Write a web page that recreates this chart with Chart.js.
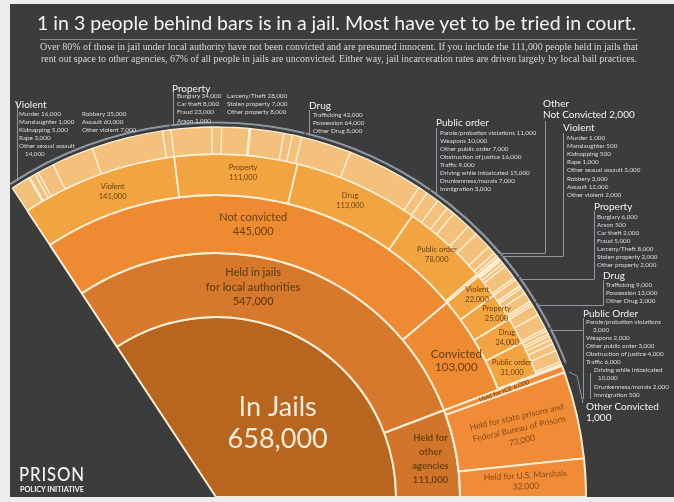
<!DOCTYPE html>
<html><head><meta charset="utf-8">
<script src="https://cdn.jsdelivr.net/npm/chart.js@4.4.1/dist/chart.umd.min.js"></script>
<style>
html,body{margin:0;padding:0;width:674px;height:502px;overflow:hidden;background:#ececec;}
#panel{position:absolute;left:10px;top:4px;width:664px;height:493px;background:#3c3c3c;overflow:hidden;}
.layer{position:absolute;left:-10px;top:-4px;width:674px;height:502px;}
canvas{position:absolute;left:0;top:0;}
.t{position:absolute;white-space:nowrap;line-height:1.2;font-family:Lato,"Open Sans",sans-serif;}
.hd{color:#f2f2f2;}
.it{color:#dcdcdc;}
</style></head>
<body>
<div id="panel">
  <div class="layer"><canvas id="c1" width="674" height="502"></canvas><canvas id="c2" width="674" height="502"></canvas></div>
  <div class="layer" id="txt"></div>
</div>
<script>
// ---------------- DATA ----------------
const titleText = '1 in 3 people behind bars is in a jail. Most have yet to be tried in court.';
const subtitleLines = [
  'Over 80% of those in jail under local authority have not been convicted and are presumed innocent. If you include the 111,000 people held in jails that',
  'rent out space to other agencies, 67% of all people in jails are unconvicted. Either way, jail incarceration rates are driven largely by local bail practices.'
];
const totalLabel = 'In Jails';
const totalValue = 658000;
const level1Labels = ['Held in jails for local authorities', 'Held for other agencies'];
const level1Values = [547000, 111000];
const statusLabels = ['Not convicted', 'Convicted'];
const statusValues = [445000, 103000];
const agencyLabels = ['Held for ICE', 'Held for state prisons and Federal Bureau of Prisons', 'Held for U.S. Marshals'];
const agencyValues = [6000, 73000, 32000];
const offenseCategories = ['Violent', 'Property', 'Drug', 'Public order', 'Other'];
const notConvictedByOffense = [141000, 111000, 113000, 78000, 2000];
const convictedByOffense = [22000, 25000, 24000, 31000, 1000];

const ncViolentLabels = ['Murder','Manslaughter','Kidnapping','Rape','Other sexual assault','Robbery','Assault','Other violent'];
const ncViolentValues = [16000,1000,5000,3000,14000,35000,60000,7000];
const ncPropertyLabels = ['Burglary','Car theft','Fraud','Arson','Larceny/Theft','Stolen property','Other property'];
const ncPropertyValues = [34000,8000,23000,1000,28000,7000,8000];
const ncDrugLabels = ['Trafficking','Possession','Other Drug'];
const ncDrugValues = [42000,64000,8000];
const ncPublicOrderLabels = ['Parole/probation violations','Weapons','Other public order','Obstruction of justice','Traffic','Driving while intoxicated','Drunkenness/morals','Immigration'];
const ncPublicOrderValues = [11000,10000,7000,16000,9000,15000,7000,3000];

const cViolentLabels = ['Murder','Manslaughter','Kidnapping','Rape','Other sexual assault','Robbery','Assault','Other violent'];
const cViolentValues = [1000,500,500,1000,3000,3000,12000,2000];
const cPropertyLabels = ['Burglary','Arson','Car theft','Fraud','Larceny/Theft','Stolen property','Other property'];
const cPropertyValues = [6000,500,2000,5000,8000,2000,2000];
const cDrugLabels = ['Trafficking','Possession','Other Drug'];
const cDrugValues = [9000,13000,2000];
const cPublicOrderLabels = ['Parole/probation violations','Weapons','Other public order','Obstruction of justice','Traffic','Driving while intoxicated','Drunkenness/morals','Immigration'];
const cPublicOrderValues = [3000,2000,3000,4000,6000,10000,2000,500];

// ---------------- STYLE / GEOMETRY ----------------
const fmt = v => v.toLocaleString('en-US');
const DEG = Math.PI / 180;
const START_DEG = -123.4, SPAN_DEG = 123.4;
const CX = 216, CY = 497;
const W = 674, H = 502;
const BG = '#3c3c3c';
const CREAM = '#fcefd6';
const C0 = '#b8661f', C1 = '#d6792c', C2 = '#ee8a31', C3 = '#f1a43f', C4 = '#f4c17c', CA = '#f08c37';
const LINE = '#8c98a3';
const LBL = '#70400f';

function paddingFor(R) {
  const s = START_DEG * DEG, e = (START_DEG + SPAN_DEG) * DEG;
  const xs = [Math.cos(s), Math.cos(e), 0], ys = [Math.sin(s), Math.sin(e), 0];
  [[0,1,0],[Math.PI/2,0,1],[Math.PI,-1,0],[-Math.PI/2,0,-1]].forEach(([a,x,y]) => {
    let t = a; while (t < s) t += 2*Math.PI; while (t > s + 2*Math.PI) t -= 2*Math.PI;
    if (t <= e + 1e-9) { xs.push(x); ys.push(y); }
  });
  const offX = -(Math.max(...xs) + Math.min(...xs)) / 2 * R;
  const offY = -(Math.max(...ys) + Math.min(...ys)) / 2 * R;
  const ccx = CX - offX, ccy = CY - offY;
  const p = {left:0,right:0,top:0,bottom:0};
  if (2*ccx <= W) p.right = W - 2*ccx; else p.left = 2*ccx - W;
  if (2*ccy >= H) p.top = 2*ccy - H; else p.bottom = H - 2*ccy;
  return p;
}

function baseOptions(R, extraPlugins) {
  return {
    responsive: false, maintainAspectRatio: false, devicePixelRatio: 1, animation: false, events: [],
    radius: R, cutout: 0, rotation: START_DEG + 90, circumference: SPAN_DEG,
    layout: { padding: paddingFor(R) },
    plugins: { legend: { display: false }, tooltip: { enabled: false } }
  };
}

// ---------------- RING DATA (built from arrays) ----------------
const ncDetails = [ncViolentValues, ncPropertyValues, ncDrugValues, ncPublicOrderValues];
const cDetails = [cViolentValues, cPropertyValues, cDrugValues, cPublicOrderValues];
const ring4 = [], ring4Bw = [], ring4Col = [];
[[ncDetails, notConvictedByOffense], [cDetails, convictedByOffense]].forEach(([det, cats]) => {
  det.forEach(arr => arr.forEach(v => { ring4.push(v); ring4Bw.push(1.3); ring4Col.push(C4); }));
  ring4.push(cats[4]); ring4Bw.push(1.3); ring4Col.push(C4);
});
agencyValues.forEach(v => { ring4.push(v); ring4Bw.push(0); ring4Col.push(CA); });

const ring3 = [...notConvictedByOffense, ...convictedByOffense, ...agencyValues];
const ring3Col = ring3.map((v,i) => i < 10 ? C3 : CA);
const ring3Bw = ring3.map((v,i) => i < 10 ? 1.8 : 0);
const ring2 = [...statusValues, ...agencyValues];
const ring2Col = ring2.map((v,i) => i < 2 ? C2 : CA);

const chart1 = new Chart(document.getElementById('c1'), {
  type: 'doughnut',
  data: {
    labels: [],
    datasets: [
      { data: ring4, weight: 27, backgroundColor: ring4Col, borderColor: CREAM, borderWidth: ring4Bw },
      { data: ring3, weight: 41, backgroundColor: ring3Col, borderColor: CREAM, borderWidth: ring3Bw },
      { data: ring2, weight: 58, backgroundColor: ring2Col, borderColor: CREAM, borderWidth: 2 },
      { data: level1Values, weight: 64, backgroundColor: [C1, '#d0752a'], borderColor: CREAM, borderWidth: 2 },
      { data: [totalValue], weight: 180, backgroundColor: [C0], borderColor: CREAM, borderWidth: 2 }
    ]
  },
  options: baseOptions(370)
});

// overlay ring: the "held for other agencies" children span the three outer rings
const localTotal = statusValues[0] + statusValues[1];
const bracketVals = [...notConvictedByOffense, ...convictedByOffense, level1Values[1]];

function drawLines(ctx, lines, x, y, font, color, lh, ang) {
  ctx.save();
  ctx.translate(x, y);
  if (ang) ctx.rotate(ang);
  ctx.font = font; ctx.fillStyle = color; ctx.textAlign = 'center'; ctx.textBaseline = 'middle';
  const n = lines.length;
  lines.forEach((t, i) => ctx.fillText(t, 0, (i - (n - 1) / 2) * lh));
  ctx.restore();
}
function elLabel(ctx, el, lines, o) {
  const p = el.tooltipPosition();
  const {startAngle, endAngle} = el.getProps(['startAngle', 'endAngle']);
  drawLines(ctx, lines, p.x + (o.dx || 0), p.y + (o.dy || 0), o.font, o.color || LBL, o.lh || 10,
            o.rotate ? (startAngle + endAngle) / 2 : 0);
}

const labelPlugin = {
  id: 'sunLabels',
  afterDatasetsDraw(chart) {
    const ctx = chart.ctx;
    const m = i => chart1.getDatasetMeta(i).data;
    const o = i => chart.getDatasetMeta(i).data;
    const F = 'Lato, "Open Sans", sans-serif';
    // centre
    elLabel(ctx, m(4)[0], [totalLabel, fmt(totalValue)], {dx: 19, dy: 6, font: `27px ${F}`, color: '#f7ecd9', lh: 32});
    // level 1
    elLabel(ctx, m(3)[0], ['Held in jails', 'for local authorities', fmt(level1Values[0])], {dx: -28, dy: -8, font: `600 11px ${F}`, lh: 14.5});
    elLabel(ctx, m(3)[1], ['Held for', 'other', 'agencies', fmt(level1Values[1])], {dx: 6, dy: 0, font: `bold 9.5px ${F}`, lh: 14});
    // status
    elLabel(ctx, m(2)[0], [statusLabels[0], fmt(statusValues[0])], {dx: -2, dy: -2, font: `11px ${F}`, lh: 14});
    elLabel(ctx, m(2)[1], [statusLabels[1], fmt(statusValues[1])], {dx: 5, dy: 2, font: `11.5px ${F}`, lh: 13.5});
    // offenses
    const ncOff = [[8,-3],[8,-2],[1,-3],[4,-4]];
    const cOff = [[7,-4],[12,-5],[9,-3],[1,1]];
    for (let i = 0; i < 4; i++) {
      elLabel(ctx, m(1)[i], [offenseCategories[i], fmt(notConvictedByOffense[i])], {dx: ncOff[i][0], dy: ncOff[i][1], font: `7.5px ${F}`, lh: 10});
      elLabel(ctx, m(1)[5 + i], [offenseCategories[i], fmt(convictedByOffense[i])], {dx: cOff[i][0], dy: cOff[i][1], font: `7.5px ${F}`, lh: 10});
    }
    // agencies (overlay ring)
    elLabel(ctx, o(2)[1], [agencyLabels[0] + ' ' + fmt(agencyValues[0])], {rotate: true, font: `6.5px ${F}`});
    elLabel(ctx, o(2)[2], ['Held for state prisons and', 'Federal Bureau of Prisons', fmt(agencyValues[1])], {rotate: true, dx: 4, font: `8.5px ${F}`, lh: 12, color: '#8a4a14'});
    elLabel(ctx, o(2)[3], [agencyLabels[2], fmt(agencyValues[2])], {rotate: true, dx: 3, font: `8.5px ${F}`, lh: 11, color: '#8a4a14'});

    // leader lines for the annotation blocks
    const el = o(0)[0];
    const cx = el.x, cy = el.y, r = el.outerRadius - 1.5;
    const arcY = x => cy - Math.sqrt(r*r - (x-cx)*(x-cx));
    const arcX = y => cx + Math.sqrt(r*r - (y-cy)*(y-cy));
    ctx.save();
    ctx.strokeStyle = LINE; ctx.lineWidth = 1;
    [[17,101],[173,92],[309,110],[436,128]].forEach(([x,y0]) => {
      ctx.beginPath(); ctx.moveTo(x+0.5, y0); ctx.lineTo(x+0.5, arcY(x)); ctx.stroke();
    });
    [[545,121,253,253],[563,133,256,256],[594,211,279,279],[603,280,305,305],[583,318,330,399]].forEach(([x,y0,yh,y1]) => {
      ctx.beginPath(); ctx.moveTo(x+0.5, y0); ctx.lineTo(x+0.5, Math.max(yh,y1));
      ctx.moveTo(x+0.5, yh+0.5); ctx.lineTo(arcX(yh), yh+0.5); ctx.stroke();
    });
    ctx.beginPath(); ctx.moveTo(590.5, 373); ctx.lineTo(590.5, 399); ctx.stroke();
    ctx.beginPath(); ctx.moveTo(arcX(372), 372); ctx.lineTo(577, 376); ctx.lineTo(583, 403); ctx.stroke();
    ctx.restore();
  }
};

const chart2 = new Chart(document.getElementById('c2'), {
  type: 'doughnut',
  data: {
    labels: [],
    datasets: [
      { data: bracketVals, weight: 3, backgroundColor: bracketVals.map((v,i) => i < 10 ? LINE : 'rgba(0,0,0,0)'), borderColor: BG, borderWidth: bracketVals.map((v,i) => i < 10 ? 1 : 0) },
      { data: [totalValue], weight: 3, backgroundColor: ['rgba(0,0,0,0)'], borderWidth: 0 },
      { data: [localTotal, ...agencyValues], weight: 126, backgroundColor: ['rgba(0,0,0,0)', CA, CA, CA], borderColor: CREAM, borderWidth: [0, 2, 2, 2] },
      { data: [totalValue], weight: 244, backgroundColor: ['rgba(0,0,0,0)'], borderWidth: 0 }
    ]
  },
  options: baseOptions(376),
  plugins: [labelPlugin]
});

// ---------------- HTML TEXT ----------------
const txt = document.getElementById('txt');
function place(text, x, yc, size, cls, extra) {
  const d = document.createElement('div');
  d.className = 't ' + cls;
  d.textContent = text;
  d.style.left = x + 'px';
  d.style.fontSize = size + 'px';
  d.style.top = (yc - size * 0.62) + 'px';
  if (extra) Object.assign(d.style, extra);
  txt.appendChild(d);
  return d;
}
function fitWidth(d, w) {
  const cur = d.getBoundingClientRect().width;
  d.style.transformOrigin = 'left center';
  d.style.transform = `scaleX(${w / cur})`;
}
const title = place(titleText, 37, 22, 20, 'hd', {color:'#f4f4f4', fontWeight:'400'});
fitWidth(title, 599);
const rule = document.createElement('div');
Object.assign(rule.style, {position:'absolute', left:'40px', top:'39px', width:'597px', height:'1px', background:'#8a8a8a'});
txt.appendChild(rule);
const s1 = place(subtitleLines[0], 40, 48, 9.3, 'it', {fontFamily:'"Liberation Serif","DejaVu Serif",serif', color:'#d8d8d8'});
fitWidth(s1, 598);
const s2 = place(subtitleLines[1], 41, 59.5, 9.3, 'it', {fontFamily:'"Liberation Serif","DejaVu Serif",serif', color:'#d8d8d8'});
fitWidth(s2, 596);

const HS = 10, IS = 6.3;
function block(header, hx, hy, labels, values, items) {
  if (header) place(header, hx, hy, HS, 'hd');
  items.forEach(([i, x, y, wrap]) => {
    if (wrap) {
      place(labels[i], x, y, IS, 'it');
      place(fmt(values[i]), x + wrap[0], y + wrap[1], IS, 'it');
    } else place(labels[i] + ' ' + fmt(values[i]), x, y, IS, 'it');
  });
}
block('Violent', 15, 104, ncViolentLabels, ncViolentValues,
  [[0,19,114],[1,19,122],[2,19,130],[3,19,138],[4,19,146,[6,8]],[5,82,114],[6,82,122],[7,82,130]]);
block('Property', 172, 88, ncPropertyLabels, ncPropertyValues,
  [[0,177,96],[1,177,104],[2,177,112],[3,177,121],[4,227,96],[5,227,104],[6,227,112]]);
block('Drug', 309, 105, ncDrugLabels, ncDrugValues, [[0,313,115],[1,313,123],[2,313,131]]);
block('Public order', 436, 122, ncPublicOrderLabels, ncPublicOrderValues,
  [0,1,2,3,4,5,6,7].map(i => [i, 440, 133 + i * 7.95]));
place('Other', 543, 103, HS, 'hd');
place('Not Convicted ' + fmt(notConvictedByOffense[4]), 543, 114, HS, 'hd');
block('Violent', 563, 127, cViolentLabels, cViolentValues,
  [0,1,2,3,4,5,6,7].map(i => [i, 567, 138 + i * 8.1]));
block('Property', 594, 206, cPropertyLabels, cPropertyValues,
  [0,1,2,3,4,5,6].map(i => [i, 597, 217 + i * 8]));
block('Drug', 603, 275, cDrugLabels, cDrugValues, [[0,606,285],[1,606,293],[2,606,301]]);
block('Public Order', 583, 313, cPublicOrderLabels, cPublicOrderValues,
  [[0,586,322,[7,8]],[1,586,338],[2,586,346],[3,586,354],[4,586,362],[5,594,370,[4,8]],[6,594,387],[7,594,395]]);
place('Other Convicted', 586, 406, HS, 'hd');
place(fmt(convictedByOffense[4]), 586, 417, HS, 'hd');

const logo1 = place('PRISON', 19, 475, 19, 'hd', {fontWeight:'500', letterSpacing:'1px', color:'#f4f4f4'});
fitWidth(logo1, 66);
const logo2 = place('POLICY INITIATIVE', 20, 490, 6.5, 'hd', {fontWeight:'700', color:'#f4f4f4'});
fitWidth(logo2, 64);
</script>
</body></html>
